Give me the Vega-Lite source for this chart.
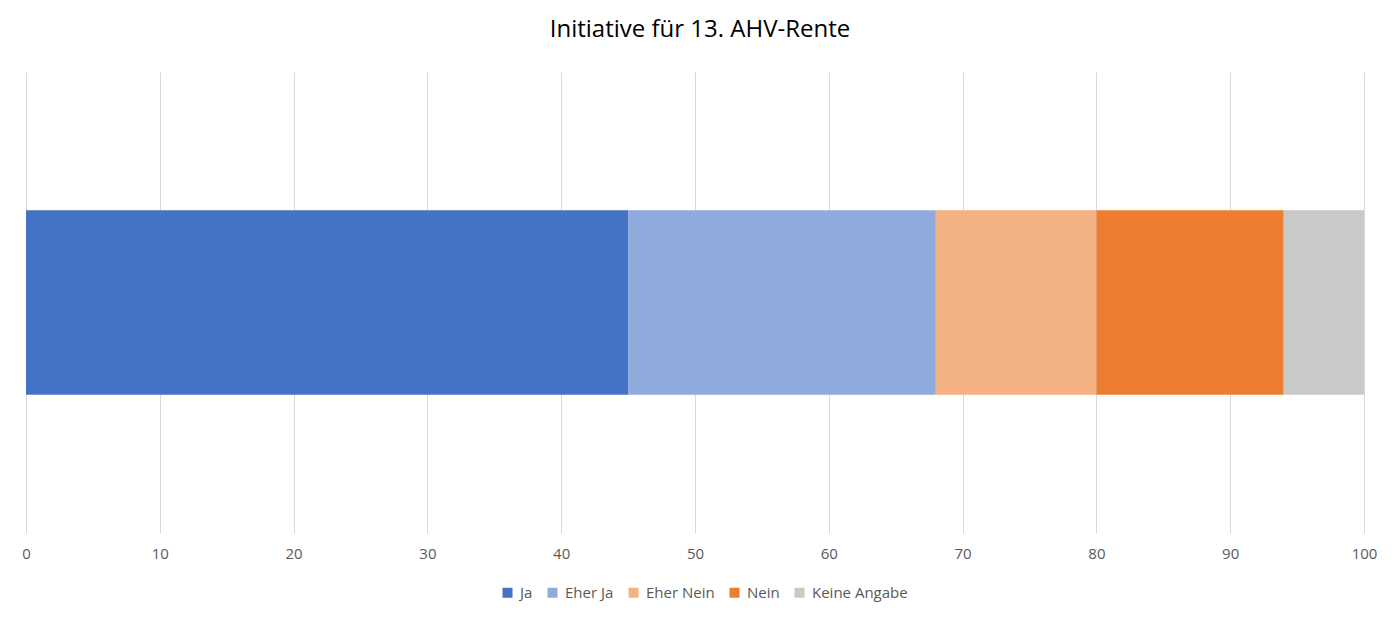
{
  "$schema": "https://vega.github.io/schema/vega-lite/v6.json",
  "autosize": {"type": "none"},
  "width": 1338,
  "height": 461,
  "padding": {"left": 26, "top": 72, "right": 36, "bottom": 88},
  "background": "white",
  "title": {
    "text": "Initiative für 13. AHV-Rente",
    "font": "Open Sans",
    "fontSize": 24,
    "fontWeight": "normal",
    "color": "#000000",
    "anchor": "middle",
    "offset": 30,
    "dx": 5
  },
  "data": {
    "values": [
      {"frage": "AHV", "antwort": "Ja", "order": 1, "prozent": 45},
      {"frage": "AHV", "antwort": "Eher Ja", "order": 2, "prozent": 23},
      {"frage": "AHV", "antwort": "Eher Nein", "order": 3, "prozent": 12},
      {"frage": "AHV", "antwort": "Nein", "order": 4, "prozent": 14},
      {"frage": "AHV", "antwort": "Keine Angabe", "order": 5, "prozent": 6}
    ]
  },
  "mark": {"type": "bar", "height": {"band": 0.4}},
  "encoding": {
    "y": {"field": "frage", "type": "nominal", "axis": null, "scale": {"paddingInner": 0, "paddingOuter": 0}},
    "x": {
      "field": "prozent",
      "type": "quantitative",
      "stack": "zero",
      "scale": {"domain": [0, 100], "nice": false},
      "axis": {
        "title": null,
        "values": [0, 10, 20, 30, 40, 50, 60, 70, 80, 90, 100],
        "domain": false,
        "ticks": false,
        "grid": true,
        "gridColor": "#d9d9d9",
        "gridWidth": 1,
        "labelFont": "Open Sans",
        "labelFontSize": 15,
        "labelColor": "#595959",
        "labelPadding": 13,
        "labelFlush": false
      }
    },
    "color": {
      "field": "antwort",
      "type": "nominal",
      "sort": ["Ja", "Eher Ja", "Eher Nein", "Nein", "Keine Angabe"],
      "scale": {
        "domain": ["Ja", "Eher Ja", "Eher Nein", "Nein", "Keine Angabe"],
        "range": ["#4472C4", "#8FAADC", "#F4B183", "#ED7D31", "#C9C9C9"]
      },
      "legend": {
        "title": null,
        "orient": "none",
        "direction": "horizontal",
        "legendX": 474,
        "legendY": 513,
        "symbolType": "square",
        "symbolSize": 100,
        "symbolStrokeWidth": 0,
        "labelFont": "Open Sans",
        "labelFontSize": 15,
        "labelColor": "#595959",
        "labelOffset": 5,
        "columnPadding": 12
      }
    },
    "order": {"field": "order", "type": "quantitative"}
  },
  "config": {"view": {"stroke": null}}
}
